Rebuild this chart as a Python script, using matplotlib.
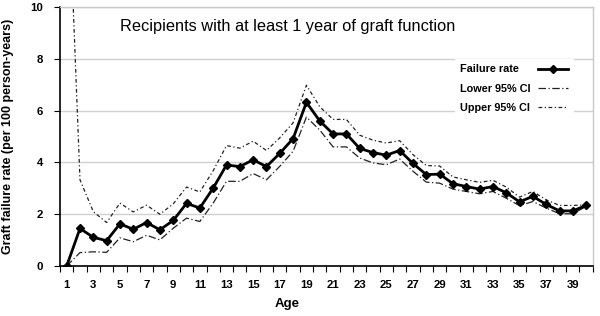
import matplotlib
matplotlib.use("Agg")
import matplotlib.pyplot as plt
import numpy as np

plt.rcParams['font.family'] = ['Liberation Sans', 'DejaVu Sans']

ages = list(range(1, 41))
failure_rate = [0, 1.45, 1.11, 0.98, 1.63, 1.42, 1.68, 1.40, 1.76, 2.42,
                2.24, 3.01, 3.90, 3.84, 4.10, 3.84, 4.35, 4.92, 6.32, 5.60,
                5.10, 5.10, 4.54, 4.38, 4.28, 4.46, 3.96, 3.53, 3.55, 3.18,
                3.07, 2.97, 3.07, 2.83, 2.48, 2.69, 2.38, 2.13, 2.13, 2.34]
lower_ci = [0, 0.52, 0.55, 0.53, 1.09, 0.94, 1.19, 1.01, 1.46, 1.85,
            1.72, 2.43, 3.27, 3.27, 3.57, 3.33, 3.85, 4.43, 5.75, 5.25,
            4.60, 4.60, 4.17, 3.98, 3.91, 4.13, 3.66, 3.24, 3.20, 2.97,
            2.88, 2.79, 2.88, 2.62, 2.33, 2.49, 2.24, 2.02, 2.02, 2.30]
upper_ci = [16.5, 3.33, 2.10, 1.68, 2.43, 2.09, 2.35, 2.00, 2.40, 3.05,
            2.86, 3.68, 4.65, 4.55, 4.82, 4.46, 4.95, 5.53, 6.98, 6.15,
            5.66, 5.66, 5.05, 4.86, 4.75, 4.84, 4.30, 3.88, 3.86, 3.44,
            3.33, 3.23, 3.31, 3.05, 2.66, 2.88, 2.56, 2.34, 2.34, 2.36]
yticks = [0, 2, 4, 6, 8, 10]
xtick_labels = [str(a) for a in ages[::2]]

fig = plt.figure(figsize=(6, 3.16), dpi=100)
ax = fig.add_axes([0.1, 0.158, 0.888, 0.82])

ax.plot(ages, failure_rate, color='black', lw=2, marker='D', ms=4.5,
        label='Failure rate', zorder=4)
ax.plot(ages, lower_ci, color='#222222', lw=0.9, dashes=(6, 2, 1, 2),
        label='Lower 95% CI', zorder=3)
ax.plot(ages, upper_ci, color='#222222', lw=0.9, dashes=(3, 2, 1, 2),
        label='Upper 95% CI', zorder=3)

ax.set_xlim(0.5, 40.5)
ax.set_ylim(0, 10)
ax.set_yticks(yticks)
ax.set_yticklabels([str(v) for v in yticks], fontweight='bold', fontsize=8.2)
ax.yaxis.grid(True, color='#d0d0d0', lw=1)
ax.set_axisbelow(True)

ax.set_xticks(np.arange(0.5, 41, 1))
ax.set_xticklabels([])
ax.set_xticks(ages[::2], minor=True)
ax.set_xticklabels(xtick_labels, minor=True, fontweight='bold', fontsize=8.2)
ax.tick_params(axis='x', which='major', direction='out', length=4, width=0.8)
ax.tick_params(axis='x', which='minor', length=0, pad=10)
ax.tick_params(axis='y', direction='out', length=4, width=0.8, pad=8)

for s in ['left', 'bottom']:
    ax.spines[s].set_color('black')
    ax.spines[s].set_linewidth(1.2)
for s in ['top', 'right']:
    ax.spines[s].set_color('#c8c8c8')
    ax.spines[s].set_linewidth(1)

ax.set_ylabel('Graft failure rate (per 100 person-years)', fontweight='bold',
              fontsize=9)
ax.yaxis.set_label_coords(-0.086, 0.5)
ax.text(0.427, -0.145, 'Age', transform=ax.transAxes, ha='center', va='center',
        fontweight='bold', fontsize=9.5)

ax.text(0.427, 0.923, 'Recipients with at least 1 year of graft function',
        transform=ax.transAxes, ha='center', va='center', fontsize=11.8)

leg = ax.legend(loc='upper right', bbox_to_anchor=(0.974, 0.82),
                markerfirst=False, frameon=True, fancybox=False,
                prop={'weight': 'bold', 'size': 7.8}, handlelength=2.8,
                handletextpad=1.0, labelspacing=0.85, borderpad=0.5)
leg.get_frame().set_facecolor('white')
leg.get_frame().set_edgecolor('none')
leg.get_frame().set_alpha(1)
# left-align labels with handles kept in a right-aligned column
try:
    for col in leg._legend_handle_box.get_children():
        col.align = 'left'
        for item in col.get_children():
            item.width = 108
            item.mode = 'expand'
except Exception:
    pass

fig.savefig('out.png', dpi=100)
